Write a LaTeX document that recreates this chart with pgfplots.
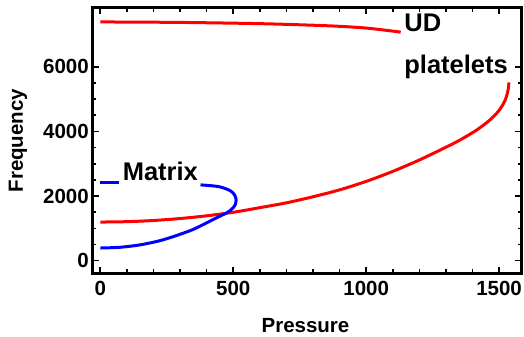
\documentclass[border=0pt]{standalone}
\usepackage{pgfplots}
\pgfplotsset{compat=1.18}
\usepackage{fontspec}
\setmainfont{Liberation Sans}
\begin{document}
\begin{tikzpicture}
\begin{axis}[
  name=ax,
  scale only axis,
  width=429.4bp, height=265.3bp,
  xmin=-30, xmax=1585,
  ymin=-390, ymax=7816,
  xtick={0,500,1000,1500},
  ytick={0,2000,4000,6000},
  minor x tick num=4,
  minor y tick num=3,
  tick align=inside,
  major tick length=6.5bp,
  minor tick length=4bp,
  tick style={black, line width=1.6bp},
  axis line style={line width=3bp},
  scaled ticks=false,
  /pgf/number format/1000 sep={},
  /pgf/number format/assume math mode=true,
  ticklabel style={font=\bfseries\fontsize{20.5bp}{24bp}\selectfont},
  xticklabel style={yshift=-4bp},
]
% lower red branch
\addplot[red, line width=3bp, smooth] coordinates {
 (0,1195) (100,1207) (200,1243) (300,1304) (400,1388) (500,1497)
 (600,1640) (700,1790) (800,1977) (900,2190) (1000,2452) (1100,2762)
 (1200,3115) (1300,3510) (1353,3733) (1416,4043)
 (1465,4350) (1500,4650) (1522,4950) (1533,5250) (1537,5515)
};
% upper red branch
\addplot[red, line width=3bp, smooth] coordinates {
 (0,7385) (300,7370) (609,7330) (859,7265) (1000,7195) (1130,7070)
};
% blue short segment
\addplot[blue, line width=3bp] coordinates {
 (0,2420) (70,2420)
};
% blue main branch
\addplot[blue, line width=3bp, smooth] coordinates {
 (377,2345) (446,2290) (490,2160) (506,2020) (511,1880) (509,1760)
 (500,1640) (480,1500) (446,1361) (400,1170) (346,955) (280,760) (221,612) (150,490) (75,415) (0,392)
};
\node[anchor=base, inner sep=0pt, font=\bfseries\fontsize{25.5bp}{30bp}\selectfont] at (axis cs:226,2474) {Matrix};
\node[anchor=base west, inner sep=0pt, font=\bfseries\fontsize{25.5bp}{30bp}\selectfont] at (axis cs:1143,7083) {UD};
\node[anchor=base west, inner sep=0pt, font=\bfseries\fontsize{25.5bp}{30bp}\selectfont] at (axis cs:1143,5796) {platelets};
\end{axis}
\draw[line width=3bp] (ax.south west) rectangle (ax.north east);
\node[anchor=base, inner sep=0pt, font=\bfseries\fontsize{20.5bp}{24bp}\selectfont] at ([xshift=-1.5bp,yshift=-59.4bp]ax.south) {Pressure};
\node[anchor=base, rotate=90, inner sep=0pt, font=\bfseries\fontsize{20.5bp}{24bp}\selectfont] at ([xshift=-69.3bp]ax.west) {Frequency};
\pgfresetboundingbox
\path[use as bounding box] ([xshift=-92.3bp,yshift=-63.7bp]ax.south west) rectangle ([xshift=2.3bp,yshift=8bp]ax.north east);
\end{tikzpicture}
\end{document}
